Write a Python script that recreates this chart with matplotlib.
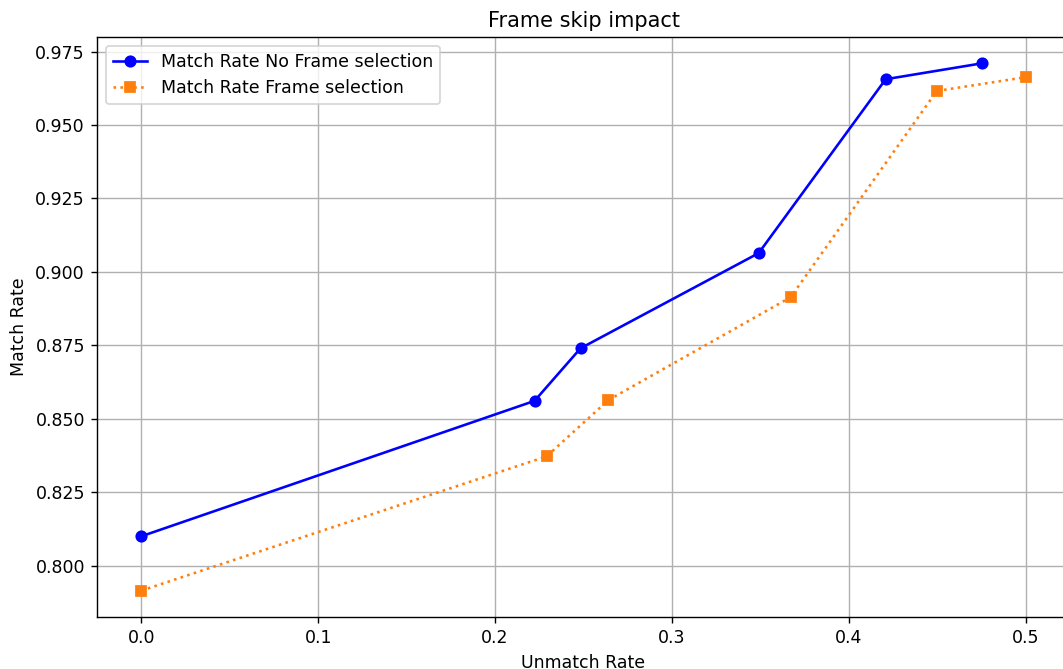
import matplotlib
matplotlib.use("Agg")
import matplotlib.pyplot as plt

# unmatch rate / match rate pairs for each frame skip setting
unmatch_no_sel = [0.0, 0.2223, 0.2483, 0.349, 0.4208, 0.4751]
match_no_sel = [0.8100, 0.8561, 0.8740, 0.9064, 0.9656, 0.9710]

unmatch_sel = [0.0, 0.2291, 0.2641, 0.3671, 0.4497, 0.5]
match_sel = [0.7915, 0.8372, 0.8564, 0.8914, 0.9616, 0.9663]

DPI = 125
fig = plt.figure(figsize=(1063 / DPI, 669 / DPI), dpi=DPI)
ax = fig.add_axes([0.0913, 0.0777, 0.9153, 0.867])

ax.plot(unmatch_no_sel, match_no_sel, color='blue', marker='o', linestyle='-',
        label='Match Rate No Frame selection')
ax.plot(unmatch_sel, match_sel, color='C1', marker='s', linestyle=':',
        label='Match Rate Frame selection')

ax.set_title('Frame skip impact')
ax.set_xlabel('Unmatch Rate')
ax.set_ylabel('Match Rate')
ax.grid(True)
ax.legend(loc='upper left')

fig.savefig('out.png', dpi=DPI)
